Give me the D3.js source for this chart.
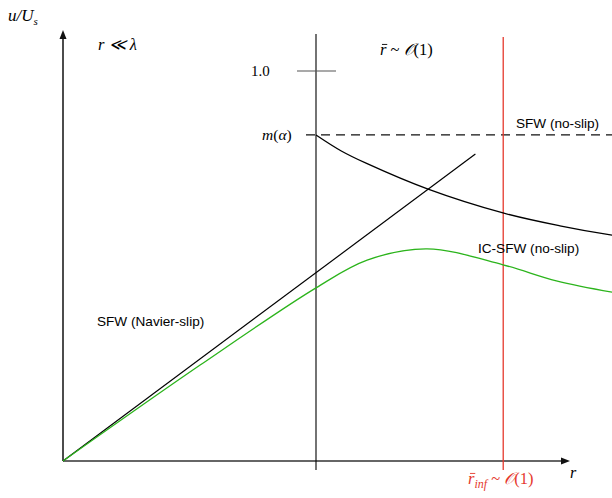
<!DOCTYPE html>
<html>
<head>
<meta charset="utf-8">
<script src="https://cdn.jsdelivr.net/npm/d3@7"></script>
<style>
  html, body { margin: 0; padding: 0; background: #fff; }
  svg { display: block; }
  .serif { font-family: "Liberation Serif", "DejaVu Serif", serif; }
  .sans { font-family: "Liberation Sans", Arial, sans-serif; }
</style>
</head>
<body>
<svg id="chart" width="612" height="498"></svg>
<script>
// Radial coordinate r (scaled so that r̄ = 1 at the matching line) and velocity u/Us
const slipR = [0, 1.63];                 // SFW (Navier-slip): linear growth near the origin
const slipU = [0, 0.787];

const noSlipR = [1.0, 1.1, 1.2, 1.443, 1.739, 1.964, 2.17, 2.25];   // SFW (no-slip) decay
const noSlipU = [0.836, 0.795, 0.763, 0.697, 0.636, 0.603, 0.579, 0.572];

const icR = [0, 0.542, 1.0, 1.202, 1.439, 1.739, 1.95, 2.17, 2.25]; // IC-SFW (no-slip)
const icU = [0, 0.246, 0.444, 0.515, 0.544, 0.503, 0.462, 0.433, 0.425];

const mAlpha = 0.836;   // plateau level m(α)
const unitLevel = 1.0;  // reference level 1.0
const rMatch = 1.0;     // r̄ ~ O(1)
const rInf = 1.74;      // r̄_inf ~ O(1)
const rMax = 2.0;       // end of the r axis
const uMax = 1.1;       // end of the u/Us axis

const svg = d3.select("#chart");
const x = d3.scaleLinear().domain([0, 2.2]).range([63, 619.6]);
const y = d3.scaleLinear().domain([0, 1]).range([461, 71]);

// Axes (plain lines with arrowheads)
svg.append("line")
  .attr("x1", x(0)).attr("y1", y(0)).attr("x2", x(0)).attr("y2", y(uMax) + 6)
  .attr("stroke", "#111").attr("stroke-width", 1.5);
svg.append("path")
  .attr("d", `M${x(0)},${y(uMax) - 2} l-3.5,9 l7,0 z`).attr("fill", "#111");
svg.append("line")
  .attr("x1", x(0)).attr("y1", y(0)).attr("x2", x(rMax) - 4).attr("y2", y(0))
  .attr("stroke", "#333").attr("stroke-width", 1.5);
svg.append("path")
  .attr("d", `M${x(rMax) + 1},${y(0)} l-9,-3.5 l0,7 z`).attr("fill", "#111");

// Matching line r̄ ~ O(1)
svg.append("line")
  .attr("x1", x(rMatch)).attr("x2", x(rMatch)).attr("y1", 34).attr("y2", 470)
  .attr("stroke", "#000").attr("stroke-width", 1.1);

// Reference mark at 1.0
svg.append("line")
  .attr("x1", x(rMatch) - 19).attr("x2", x(rMatch) + 20)
  .attr("y1", y(unitLevel)).attr("y2", y(unitLevel))
  .attr("stroke", "#555").attr("stroke-width", 1.2);

// Dashed plateau m(α)
svg.append("line")
  .attr("x1", x(rMatch) - 10).attr("x2", 612)
  .attr("y1", y(mAlpha)).attr("y2", y(mAlpha))
  .attr("stroke", "#111").attr("stroke-width", 1.3)
  .attr("stroke-dasharray", "9,6");

// r̄_inf line
svg.append("line")
  .attr("x1", x(rInf)).attr("x2", x(rInf)).attr("y1", 37).attr("y2", 470)
  .attr("stroke", "#e5392d").attr("stroke-width", 1.3);

const line = d3.line().x(d => x(d[0])).y(d => y(d[1])).curve(d3.curveCatmullRom.alpha(0.5));

// Navier-slip linear branch
svg.append("path")
  .datum(d3.zip(slipR, slipU))
  .attr("d", d3.line().x(d => x(d[0])).y(d => y(d[1])))
  .attr("fill", "none").attr("stroke", "#000").attr("stroke-width", 1.2);

// IC-SFW (no-slip)
svg.append("path")
  .datum(d3.zip(icR, icU))
  .attr("d", line)
  .attr("fill", "none").attr("stroke", "#2cb41c").attr("stroke-width", 1.3);

// SFW (no-slip) decay
svg.append("path")
  .datum(d3.zip(noSlipR, noSlipU))
  .attr("d", line)
  .attr("fill", "none").attr("stroke", "#000").attr("stroke-width", 1.3);

// Labels
const serifText = (tx, ty, size) => svg.append("text").attr("class", "serif")
  .attr("x", tx).attr("y", ty).attr("font-size", size).attr("fill", "#000");

// bar over an italic r starting at (tx, baseline ty)
function overbar(tx, ty, size, color) {
  const yb = ty - size * 0.64;
  svg.append("line")
    .attr("x1", tx + size * 0.12).attr("x2", tx + size * 0.44)
    .attr("y1", yb).attr("y2", yb)
    .attr("stroke", color).attr("stroke-width", 0.9);
}

const uLab = serifText(8, 21, 17).attr("font-style", "italic");
uLab.append("tspan").text("u/U");
uLab.append("tspan").attr("font-size", 11).attr("dy", 4).text("s");

serifText(98, 50, 16.5).attr("font-style", "italic").text("r \u226A \u03BB");

serifText(251, 76, 15).text("1.0");

const mLab = serifText(262, 140, 15.5);
mLab.append("tspan").attr("font-style", "italic").text("m");
mLab.append("tspan").text("(");
mLab.append("tspan").attr("font-style", "italic").text("\u03B1");
mLab.append("tspan").text(")");

const rbar = serifText(380, 55, 16.5);
rbar.append("tspan").attr("font-style", "italic").text("r");
rbar.append("tspan").text(" ~ ");
rbar.append("tspan").attr("font-style", "italic").text("\uD835\uDCAA");
rbar.append("tspan").text("(1)");
overbar(380, 55, 16.5, "#000");

serifText(570, 478, 16).attr("font-style", "italic").text("r");

const rinf = serifText(468, 484, 16.5).attr("fill", "#e5392d");
rinf.append("tspan").attr("font-style", "italic").text("r");
rinf.append("tspan").attr("font-style", "italic").attr("font-size", 12).attr("dy", 4).text("inf");
rinf.append("tspan").attr("dy", -4).text(" ~ ");
rinf.append("tspan").attr("font-style", "italic").text("\uD835\uDCAA");
rinf.append("tspan").text("(1)");
overbar(468, 484, 16.5, "#e5392d");

const sansText = (tx, ty, s) => svg.append("text").attr("class", "sans")
  .attr("x", tx).attr("y", ty).attr("font-size", 13.6).attr("fill", "#000").text(s);
sansText(516, 127.5, "SFW (no-slip)");
sansText(478, 253, "IC-SFW (no-slip)");
sansText(97, 325.5, "SFW (Navier-slip)");
</script>
</body>
</html>
